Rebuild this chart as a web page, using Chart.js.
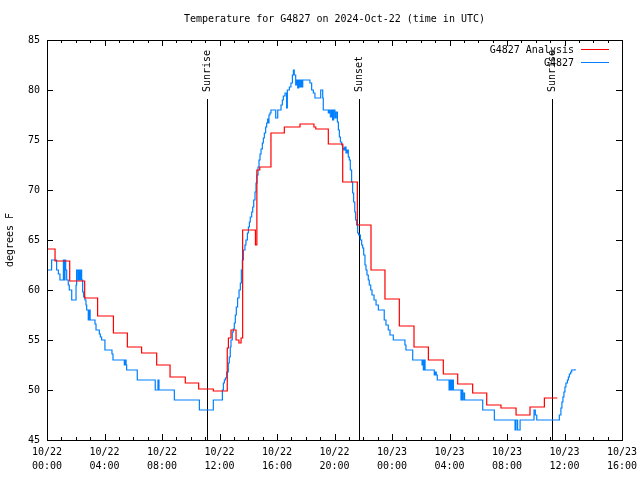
<!DOCTYPE html>
<html>
<head>
<meta charset="utf-8">
<script src="https://cdn.jsdelivr.net/npm/chart.js@4.4.1/dist/chart.umd.min.js"></script>
<style>
  body { margin: 0; background: #fff; }
  #chart { display: block; }
</style>
</head>
<body>
<canvas id="chart" width="640" height="480"></canvas>
<script>
// all times are hours since 10/22 00:00 UTC
let redHours = [0, 0.56, 1.58, 2.62, 3.52, 4.62, 5.59, 6.58, 7.63, 8.56,
  9.62, 10.55, 11.57, 12.54, 12.62, 12.80, 13.15, 13.35, 13.50, 13.61,
  14.50, 14.60, 14.80, 15.58, 16.51, 17.60, 18.57, 18.70, 19.57, 20.57,
  21.59, 22.54, 23.51, 24.51, 25.53, 26.53, 27.57, 28.57, 29.61, 30.59,
  31.58, 32.63, 33.60, 34.60, 35.50];
let redTemps = [64.1, 62.9, 60.9, 59.2, 57.4, 55.7, 54.3, 53.7, 52.5, 51.3,
  50.7, 50.1, 49.9, 54.2, 55.2, 56.0, 55.0, 54.7, 55.2, 66.0,
  64.5, 72.0, 72.3, 75.7, 76.3, 76.6, 76.3, 76.1, 74.6, 70.8,
  66.5, 62.0, 59.1, 56.4, 54.3, 53.0, 51.6, 50.6, 49.7, 48.5,
  48.2, 47.5, 48.3, 49.2, 49.2];

let blueHours = [0, 0.32, 0.67, 0.79, 0.90, 1.14, 1.21, 1.25, 1.30, 1.37,
  1.48, 1.55, 1.72, 2.02, 2.06, 2.15, 2.20, 2.27, 2.34, 2.41,
  2.48, 2.55, 2.64, 2.71, 2.76, 2.87, 2.94, 3.00, 3.34, 3.41,
  3.64, 3.71, 3.80, 4.03, 4.52, 4.59, 5.38, 5.45, 5.50, 5.54,
  6.28, 7.53, 7.72, 7.79, 8.86, 10.60, 11.57, 12.20, 12.27, 12.34,
  12.41, 12.50, 12.61, 12.68, 12.75, 12.80, 12.89, 12.96, 13.03, 13.10,
  13.17, 13.26, 13.36, 13.45, 13.52, 13.59, 13.66, 13.77, 13.84, 13.94,
  14.01, 14.08, 14.14, 14.24, 14.31, 14.38, 14.47, 14.54, 14.61, 14.68,
  14.75, 14.82, 14.89, 14.98, 15.05, 15.12, 15.21, 15.28, 15.35, 15.40,
  15.44, 15.51, 15.58, 15.91, 16.05, 16.28, 16.37, 16.44, 16.56, 16.67,
  16.72, 16.86, 16.97, 17.07, 17.14, 17.20, 17.30, 17.37, 17.44, 17.51,
  17.58, 17.65, 17.72, 17.79, 18.29, 18.41, 18.53, 18.64, 19.04, 19.18,
  19.22, 19.57, 19.64, 19.71, 19.80, 19.87, 19.94, 20.03, 20.11, 20.20,
  20.27, 20.34, 20.41, 20.50, 20.57, 20.64, 20.72, 20.80, 20.88, 20.96,
  21.03, 21.10, 21.19, 21.26, 21.33, 21.41, 21.47, 21.54, 21.61, 21.68,
  21.80, 21.89, 21.96, 22.03, 22.12, 22.19, 22.26, 22.35, 22.42, 22.52,
  22.61, 22.75, 22.89, 23.05, 23.46, 23.58, 23.74, 23.86, 24.09, 24.90,
  24.97, 25.44, 26.09, 26.13, 26.18, 26.22, 26.30, 26.94, 27.02, 27.08,
  27.15, 27.97, 28.05, 28.12, 28.20, 28.27, 28.80, 28.86, 28.92, 28.96,
  29.05, 30.31, 31.12, 32.56, 32.63, 32.74, 32.91, 33.88, 33.97, 34.07,
  35.64, 35.75, 35.82, 35.89, 35.96, 36.03, 36.10, 36.20, 36.27, 36.34,
  36.43, 36.50, 36.73];
let blueTemps = [62.0, 63.0, 62.0, 61.6, 61.0, 63.0, 61.0, 63.0, 62.0, 61.0,
  60.5, 60.0, 59.0, 60.5, 62.0, 61.0, 62.0, 61.0, 62.0, 61.0,
  59.8, 59.3, 59.0, 58.5, 58.0, 57.0, 58.0, 57.0, 56.6, 56.0,
  55.6, 55.3, 55.0, 54.0, 53.6, 53.0, 52.5, 53.0, 52.5, 52.0,
  51.0, 50.0, 51.0, 50.0, 49.0, 48.0, 49.0, 50.0, 50.7, 51.0,
  51.2, 51.8, 52.7, 53.3, 54.3, 55.0, 55.8, 56.1, 56.7, 57.5,
  58.3, 59.2, 60.0, 60.7, 62.0, 63.0, 64.0, 64.5, 65.0, 65.7,
  66.3, 66.8, 67.3, 67.8, 68.3, 69.0, 69.8, 70.7, 71.5, 72.3,
  73.0, 73.6, 74.1, 74.7, 75.2, 75.7, 76.3, 76.7, 77.1, 76.7,
  77.5, 77.7, 78.0, 77.2, 78.0, 78.5, 79.0, 79.4, 79.7, 78.2,
  80.0, 80.3, 80.7, 81.5, 82.0, 81.5, 80.5, 81.0, 80.2, 81.0,
  80.3, 81.0, 80.3, 81.0, 80.7, 80.0, 79.7, 79.2, 80.0, 79.2,
  78.0, 77.7, 78.0, 77.3, 78.0, 77.0, 78.0, 77.2, 77.8, 76.8,
  76.0, 75.3, 74.8, 74.5, 74.2, 74.0, 74.3, 73.7, 74.0, 73.3,
  73.0, 72.0, 70.8, 69.7, 68.8, 67.8, 67.0, 66.5, 65.7, 65.5,
  65.0, 64.5, 64.2, 63.5, 62.5, 62.0, 61.5, 61.0, 60.5, 60.0,
  59.5, 59.0, 58.5, 58.0, 57.0, 56.5, 56.0, 55.5, 55.0, 54.5,
  54.0, 53.0, 52.5, 53.0, 52.0, 53.0, 52.0, 51.5, 51.8, 51.5,
  51.0, 50.0, 51.0, 50.0, 51.0, 50.0, 49.0, 50.0, 49.0, 49.7,
  49.0, 48.0, 47.0, 46.0, 47.0, 46.0, 47.0, 48.0, 47.5, 47.0,
  47.5, 48.2, 48.8, 49.3, 49.8, 50.3, 50.7, 51.0, 51.3, 51.6,
  51.8, 52.0, 52.1];

// x tick labels, one per 4 hours
let xTickDays = ['10/22', '10/22', '10/22', '10/22', '10/22', '10/22',
  '10/23', '10/23', '10/23', '10/23', '10/23'];
let xTickTimes = ['00:00', '04:00', '08:00', '12:00', '16:00', '20:00',
  '00:00', '04:00', '08:00', '12:00', '16:00'];

let sunHours = [11.13, 21.72, 35.15];
let sunNames = ['Sunrise', 'Sunset', 'Sunrise'];

let seriesNames = ['G4827 Analysis', 'G4827'];
let seriesColors = ['#ff0000', '#0080ff'];
let titleText = 'Temperature for G4827 on 2024-Oct-22 (time in UTC)';
let yLabel = 'degrees F';

const FONT_NAME = '"DejaVu Sans Mono", "Liberation Mono", monospace';

function toPoints(hours, temps){
  return hours.map((h, i) => ({ x: h, y: temps[i] }));
}

// gnuplot look: border, inward ticks, sun lines, legend, title
let gnuplotBits = {
  id: 'gnuplotBits',
  beforeDatasetsDraw(chart){
    let ctx = chart.ctx;
    let a = chart.chartArea;
    let xs = chart.scales.x;
    ctx.save();
    ctx.strokeStyle = '#000';
    ctx.lineWidth = 1;
    sunHours.forEach(h => {
      let px = Math.round(xs.getPixelForValue(h)) + 0.5;
      ctx.beginPath();
      ctx.moveTo(px, a.top + 59);
      ctx.lineTo(px, a.bottom);
      ctx.stroke();
    });
    ctx.restore();
  },
  afterDraw(chart){
    let ctx = chart.ctx;
    let a = chart.chartArea;
    let xs = chart.scales.x;
    let ys = chart.scales.y;
    ctx.save();
    ctx.strokeStyle = '#000';
    ctx.fillStyle = '#000';
    ctx.lineWidth = 1;

    // border
    ctx.strokeRect(Math.round(a.left) + 0.5, Math.round(a.top) + 0.5,
      Math.round(a.right - a.left), Math.round(a.bottom - a.top));

    // x ticks every hour, longer every 4 hours, mirrored on top
    ctx.beginPath();
    for (let h = 0; h <= 40; h++) {
      let px = Math.round(xs.getPixelForValue(h)) + 0.5;
      let len = (h % 4 === 0) ? 6 : 3;
      ctx.moveTo(px, a.bottom); ctx.lineTo(px, a.bottom - len);
      ctx.moveTo(px, a.top); ctx.lineTo(px, a.top + len);
    }
    // y ticks, mirrored on right
    for (let v = 45; v <= 85; v += 5) {
      let py = Math.round(ys.getPixelForValue(v)) + 0.5;
      ctx.moveTo(a.left, py); ctx.lineTo(a.left + 6, py);
      ctx.moveTo(a.right, py); ctx.lineTo(a.right - 6, py);
    }
    ctx.stroke();

    ctx.font = '10px ' + FONT_NAME;

    // sunrise / sunset labels, vertical
    sunHours.forEach((h, i) => {
      let px = Math.round(xs.getPixelForValue(h)) + 0.5;
      ctx.save();
      ctx.translate(px, a.top + 52);
      ctx.rotate(-Math.PI / 2);
      ctx.textAlign = 'left';
      ctx.textBaseline = 'middle';
      ctx.fillText(sunNames[i], 0, 0);
      ctx.restore();
    });

    // legend top right inside the plot
    ctx.textAlign = 'right';
    ctx.textBaseline = 'middle';
    seriesNames.forEach((name, i) => {
      let py = a.top + 10 + i * 13;
      ctx.fillStyle = '#000';
      ctx.fillText(name, a.right - 48, py);
      ctx.strokeStyle = seriesColors[i];
      ctx.beginPath();
      ctx.moveTo(a.right - 41, Math.round(py) - 0.5);
      ctx.lineTo(a.right - 13, Math.round(py) - 0.5);
      ctx.stroke();
    });

    // title
    ctx.fillStyle = '#000';
    ctx.textAlign = 'center';
    ctx.fillText(titleText, (a.left + a.right) / 2, 19);

    // y axis label
    ctx.save();
    ctx.translate(10, (a.top + a.bottom) / 2);
    ctx.rotate(-Math.PI / 2);
    ctx.textAlign = 'center';
    ctx.fillText(yLabel, 0, 0);
    ctx.restore();

    ctx.restore();
  }
};

let canvas = document.getElementById('chart');
new Chart(canvas, {
  type: 'line',
  data: {
    datasets: [{
      label: seriesNames[0],
      data: toPoints(redHours, redTemps),
      borderColor: seriesColors[0],
      borderWidth: 1.2,
      pointRadius: 0,
      stepped: 'before',
      fill: false
    }, {
      label: seriesNames[1],
      data: toPoints(blueHours, blueTemps),
      borderColor: seriesColors[1],
      borderWidth: 1.2,
      pointRadius: 0,
      stepped: 'before',
      fill: false
    }]
  },
  options: {
    responsive: false,
    animation: false,
    devicePixelRatio: 1,
    layout: { padding: { top: 40, right: 18, left: 0, bottom: 0 } },
    plugins: {
      legend: { display: false },
      tooltip: { enabled: false },
      title: { display: false }
    },
    scales: {
      x: {
        type: 'linear',
        min: 0,
        max: 40,
        grid: { display: false, drawTicks: false },
        border: { display: false },
        afterFit: (s) => { s.height = 40; s.paddingLeft = 0; s.paddingRight = 0; },
        ticks: {
          stepSize: 4,
          autoSkip: false,
          maxRotation: 0,
          padding: 5,
          color: '#000',
          font: { family: FONT_NAME, size: 10, lineHeight: 1.4 },
          callback: (v) => {
            let i = Math.round(v / 4);
            return [xTickDays[i], xTickTimes[i]];
          }
        }
      },
      y: {
        min: 45,
        max: 85,
        grid: { display: false, drawTicks: false },
        border: { display: false },
        afterFit: (s) => { s.width = 47; s.paddingTop = 0; s.paddingBottom = 0; },
        ticks: {
          stepSize: 5,
          padding: 7,
          color: '#000',
          font: { family: FONT_NAME, size: 10 }
        }
      }
    }
  },
  plugins: [gnuplotBits]
});
</script>
</body>
</html>
